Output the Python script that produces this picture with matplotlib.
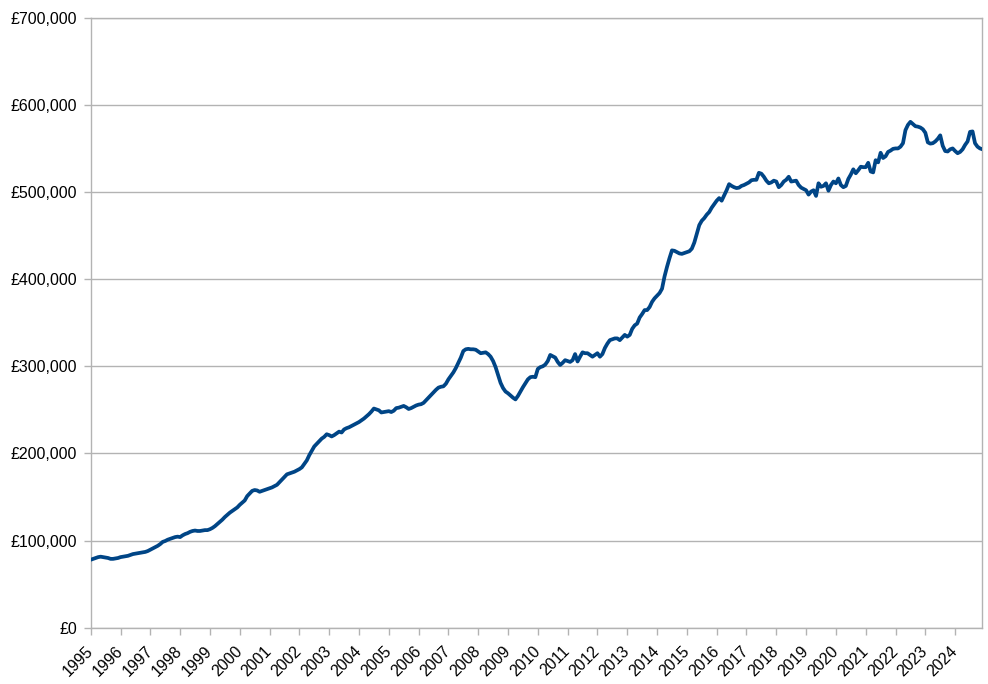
import matplotlib
matplotlib.use('Agg')
import matplotlib.pyplot as plt
import numpy as np
from matplotlib.ticker import FuncFormatter

plt.rcParams['font.family'] = ['Liberation Sans', 'DejaVu Sans']

# monthly average price (£ thousands), Jan..Dec
prices = {
    1995: [78, 79, 80, 81, 81.5, 81, 80.5, 80, 79, 79, 79.5, 80],
    1996: [81, 81.5, 82, 82.5, 83.5, 84.5, 85, 85.5, 86, 86.5, 87, 88],
    1997: [89.5, 91, 92.5, 94, 96, 98.5, 99.5, 101, 102, 103, 104, 104.5],
    1998: [104, 106, 107.5, 108.5, 110, 111, 111.5, 111, 111, 111.5, 112, 112],
    1999: [113, 114.5, 116.5, 119, 121.5, 124, 127, 129.5, 132, 134, 136, 138],
    2000: [141, 143.5, 146, 151, 154, 157, 158, 157.5, 156, 157, 158, 159],
    2001: [160, 161, 162.5, 164, 167, 170, 173, 176, 177, 178, 179, 180.5],
    2002: [182, 184, 188, 192, 198, 203, 208, 211, 214, 217, 219, 222],
    2003: [221, 219.5, 221, 223, 225, 224, 227.5, 229, 230, 231.5, 233, 234.5],
    2004: [236, 238, 240, 242.5, 245, 248, 251.5, 250.5, 249.5, 247, 247.5, 248],
    2005: [248.5, 247.5, 249, 252, 252.5, 253.5, 254.5, 253, 251, 252, 253.5, 255],
    2006: [256, 256.5, 258, 261, 264, 267, 270, 273, 275.5, 276.5, 277, 280],
    2007: [285, 289, 293, 298, 304, 310, 317.5, 319.5, 320, 319.5, 319.5, 319],
    2008: [317, 315, 315.5, 316, 314, 311, 306, 299, 290, 281, 275, 271],
    2009: [269, 266.5, 264, 262, 266, 271, 276, 280.5, 285, 287.5, 288, 287.5],
    2010: [297, 299, 300, 302, 306, 313, 311.5, 310, 305, 301.5, 304, 307],
    2011: [306, 305, 307, 314, 305.5, 311, 316, 315, 315, 313, 311, 313],
    2012: [315, 311, 314, 321, 326, 330, 331, 332, 332, 330, 333, 336],
    2013: [334, 336, 343, 347, 349, 356, 360, 364.5, 364.5, 368, 374, 378],
    2014: [381, 384, 389, 403, 414, 424, 433, 432.5, 431, 429.5, 429, 430],
    2015: [431, 432, 435, 442, 452, 462, 467, 470, 474, 477, 482, 486],
    2016: [490, 493, 490, 496, 502, 509, 507, 505.5, 504.5, 505, 507, 508],
    2017: [509.5, 511, 513.5, 514, 514, 522, 521, 517.5, 513, 510, 511, 513],
    2018: [512, 505.5, 508, 512, 514, 517.5, 512, 512.5, 513, 508, 505, 503.5],
    2019: [502, 497, 500.5, 502, 495.5, 510, 506, 507, 510, 501.5, 508, 512],
    2020: [510, 515.5, 508, 505.5, 507, 515, 520, 526, 521.5, 525, 529, 528.5],
    2021: [528.5, 533.5, 523.5, 522.5, 536.5, 534, 545, 539, 541, 546, 547.5, 549.5],
    2022: [550, 550, 552, 556, 571, 577, 580.5, 578, 575.5, 575, 574, 572],
    2023: [568, 557, 555.5, 556, 558, 561, 565, 553, 547, 546.5, 549, 550],
    2024: [547, 544.5, 546, 549, 554, 558, 569, 569.5, 556, 552, 550, 549],
}

years = sorted(prices)
dates = np.array([y + m / 12 for y in years for m in range(12)])
values = np.array([v * 1000 for y in years for v in prices[y]])

fig = plt.figure(figsize=(9.88, 6.84), dpi=100)
fig.patch.set_facecolor('white')
ax = fig.add_axes([0.0918, 0.0823, 0.9026, 0.8918])

grey = '#b3b3b3'
ax.plot(dates, values, color='#004586', lw=2.7, solid_joinstyle='round',
        solid_capstyle='round', zorder=3)

ax.set_xlim(1995, 2024 + 11 / 12)
ax.set_ylim(0, 700000)
ax.set_yticks(np.arange(0, 700001, 100000))
ax.yaxis.set_major_formatter(FuncFormatter(lambda v, p: f'£{v:,.0f}'))
ax.set_xticks(years)
ax.set_xticklabels([str(y) for y in years], rotation=45, ha='right',
                   va='center', rotation_mode='anchor')

ax.grid(axis='y', color=grey, lw=1)
ax.set_axisbelow(True)
for s in ax.spines.values():
    s.set_color(grey)
    s.set_linewidth(1)
ax.tick_params(axis='both', direction='out', length=5, width=1, color=grey,
               labelsize=11.5, labelcolor='black')
ax.tick_params(axis='x', pad=10)
ax.tick_params(axis='y', pad=5)

plt.savefig('out.png', dpi=100, facecolor='white')
